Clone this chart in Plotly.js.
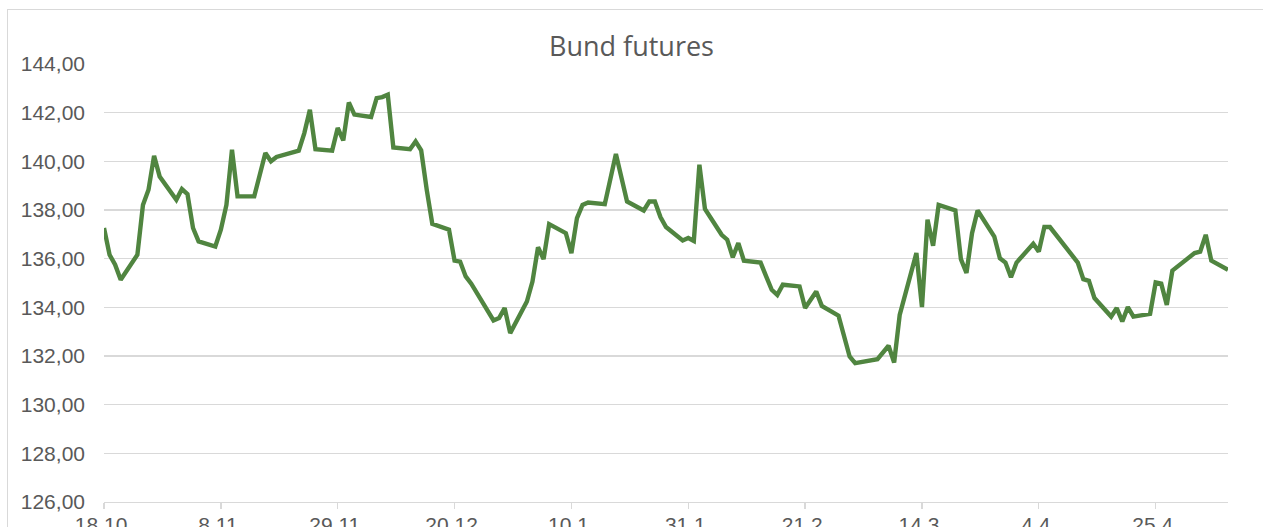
<!DOCTYPE html>
<html>
<head>
<meta charset="utf-8">
<script src="https://cdn.plot.ly/plotly-3.0.1.min.js"></script>
<style>
  html, body { margin: 0; padding: 0; background: #ffffff; overflow: hidden; }
  #chart { position: absolute; left: 0; top: 0; width: 1263px; height: 527px; }
  #frame { position: absolute; left: 7px; top: 9px; width: 1300px; height: 600px;
           border: 1px solid #d9d9d9; pointer-events: none; }
</style>
</head>
<body>
<div id="chart"></div>
<div id="frame"></div>
<script>
// Bund futures closing prices
const dates = [
  '2022-10-18','2022-10-19','2022-10-20','2022-10-21','2022-10-24','2022-10-25','2022-10-26','2022-10-27','2022-10-28',
  '2022-10-31','2022-11-01','2022-11-02','2022-11-03','2022-11-04','2022-11-07','2022-11-08','2022-11-09','2022-11-10',
  '2022-11-11','2022-11-14','2022-11-16','2022-11-17','2022-11-18','2022-11-21','2022-11-22','2022-11-23','2022-11-24',
  '2022-11-25','2022-11-28','2022-11-29','2022-11-30','2022-12-01','2022-12-02','2022-12-05','2022-12-06','2022-12-07',
  '2022-12-08','2022-12-09','2022-12-12','2022-12-13','2022-12-14','2022-12-15','2022-12-16','2022-12-19','2022-12-20',
  '2022-12-21','2022-12-22','2022-12-23','2022-12-27','2022-12-28','2022-12-29','2022-12-30','2023-01-02','2023-01-03',
  '2023-01-04','2023-01-05','2023-01-06','2023-01-09','2023-01-10','2023-01-11','2023-01-12','2023-01-13','2023-01-16',
  '2023-01-18','2023-01-19','2023-01-20','2023-01-23','2023-01-24','2023-01-25','2023-01-26','2023-01-27','2023-01-30',
  '2023-01-31','2023-02-01','2023-02-02','2023-02-03','2023-02-06','2023-02-07','2023-02-08','2023-02-09','2023-02-10',
  '2023-02-13','2023-02-14','2023-02-15','2023-02-16','2023-02-17','2023-02-20','2023-02-21','2023-02-23','2023-02-24',
  '2023-02-27','2023-03-01','2023-03-02','2023-03-06','2023-03-08','2023-03-09','2023-03-10','2023-03-13','2023-03-14',
  '2023-03-15','2023-03-16','2023-03-17','2023-03-20','2023-03-21','2023-03-22','2023-03-23','2023-03-24','2023-03-27',
  '2023-03-28','2023-03-29','2023-03-30','2023-03-31','2023-04-03','2023-04-04','2023-04-05','2023-04-06','2023-04-11',
  '2023-04-12','2023-04-13','2023-04-14','2023-04-17','2023-04-18','2023-04-19','2023-04-20','2023-04-21','2023-04-24',
  '2023-04-25','2023-04-26','2023-04-27','2023-04-28','2023-05-02','2023-05-03','2023-05-04','2023-05-05','2023-05-08'
];
const prices = [
  137.26,136.16,135.75,135.13,136.16,138.21,138.83,140.23,139.38,
  138.42,138.86,138.65,137.26,136.71,136.50,137.19,138.21,140.48,
  138.56,138.56,140.34,140.00,140.18,140.40,140.44,141.16,142.12,
  140.50,140.44,141.37,140.86,142.42,141.92,141.82,142.60,142.64,
  142.74,140.57,140.50,140.82,140.45,138.83,137.43,137.19,135.92,
  135.88,135.27,134.97,133.46,133.56,133.97,132.94,134.24,135.06,
  136.47,135.98,137.42,137.05,136.23,137.67,138.21,138.31,138.24,
  140.30,139.38,138.35,137.98,138.35,138.35,137.71,137.30,136.75,
  136.85,136.73,139.86,138.04,136.98,136.78,136.06,136.64,135.92,
  135.84,135.27,134.72,134.51,134.93,134.86,133.97,134.65,134.06,
  133.66,131.98,131.71,131.87,132.42,131.73,133.69,136.23,134.01,
  137.60,136.53,138.21,137.98,135.98,135.41,137.05,137.98,136.91,
  136.02,135.84,135.24,135.84,136.61,136.29,137.30,137.30,135.84,
  135.16,135.09,134.38,133.62,133.97,133.42,134.01,133.62,133.73,
  135.02,134.97,134.10,135.51,136.23,136.29,136.98,135.92,135.54
];
const tickDates  = ['2022-10-18','2022-11-08','2022-11-29','2022-12-20','2023-01-10','2023-01-31','2023-02-21','2023-03-14','2023-04-04','2023-04-25'];
const tickLabels = ['18.10.','8.11.','29.11.','20.12.','10.1.','31.1.','21.2.','14.3.','4.4.','25.4.'];
const chartTitle = 'Bund futures';

const trace = {
  x: dates, y: prices, type: 'scatter', mode: 'lines',
  line: { color: '#508540', width: 4.4, shape: 'linear' },
  hoverinfo: 'x+y'
};

const layout = {
  width: 1263, height: 527,
  margin: { l: 104, r: 35, t: 64, b: 25, pad: 0 },
  paper_bgcolor: '#ffffff', plot_bgcolor: '#ffffff',
  separators: ',.',
  showlegend: false,
  title: {
    text: chartTitle,
    font: { family: 'Open Sans, Liberation Sans, sans-serif', size: 27, color: '#595959' },
    x: 0.5, xanchor: 'center', xref: 'container',
    y: 1 - 47/527, yanchor: 'middle', yref: 'container'
  },
  xaxis: {
    type: 'date',
    range: ['2022-10-18', '2023-05-08'],
    tickvals: tickDates, ticktext: tickLabels,
    showgrid: false, zeroline: false,
    showline: true, linecolor: '#d9d9d9', linewidth: 1.3,
    ticks: 'outside', ticklen: 6, tickcolor: '#d9d9d9', tickwidth: 1.3,
    ticklabelstandoff: -3,
    tickfont: { family: 'Liberation Sans, Arial, sans-serif', size: 21, color: '#595959' }
  },
  yaxis: {
    range: [126, 144], dtick: 2, tick0: 126, tickformat: '.2f',
    showgrid: true, gridcolor: '#d9d9d9', gridwidth: 1.3,
    zeroline: false, showline: false, ticks: '',
    ticklabelstandoff: 18,
    tickfont: { family: 'Liberation Sans, Arial, sans-serif', size: 21, color: '#595959' }
  }
};

Plotly.newPlot('chart', [trace], layout, { displayModeBar: false, staticPlot: true });
</script>
</body>
</html>
